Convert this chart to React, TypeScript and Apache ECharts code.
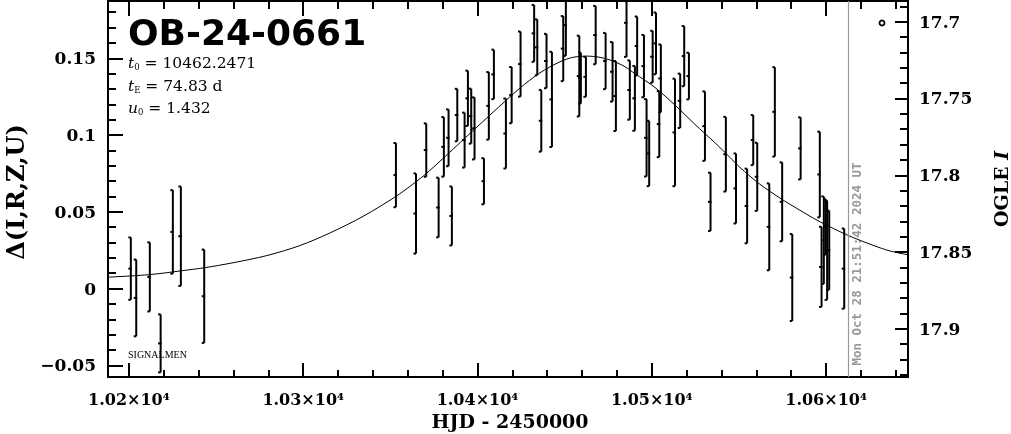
import React, { useEffect, useRef } from "react";
import * as echarts from "echarts";

// Observations: time (HJD-2450000), Δ flux, error
const obsT = [10201.1, 10204.2, 10212.0, 10218.2, 10225.2, 10229.8, 10243.2, 10353.2, 10364.7, 10370.6, 10377.7, 10380.7, 10383.4, 10385.3, 10388.4, 10392.6, 10394.5, 10396.4, 10398.3, 10403.7, 10406.5, 10409.4, 10416.3, 10419.6, 10424.7, 10432.5, 10434.3, 10436.6, 10439.6, 10442.7, 10449.2, 10450.7, 10458.4, 10459.3, 10462.2, 10467.8, 10473.5, 10477.5, 10479.4, 10485.5, 10487.4, 10490.3, 10491.6, 10495.5, 10497.0, 10498.5, 10500.5, 10502.4, 10504.3, 10505.2, 10513.3, 10516.3, 10518.6, 10521.3, 10530.5, 10533.7, 10542.5, 10548.3, 10554.7, 10558.2, 10560.5, 10567.4, 10570.6, 10574.8, 10580.6, 10585.4, 10596.4, 10597.4, 10598.7, 10599.7, 10600.6, 10601.8, 10610.4];
const obsDelta = [0.0130, -0.0061, 0.0076, -0.0357, 0.0369, 0.0341, -0.0050, 0.0739, 0.0489, 0.0902, 0.0528, 0.0923, 0.0982, 0.0473, 0.1130, 0.0967, 0.1239, 0.1123, 0.1043, 0.0699, 0.1190, 0.1395, 0.1010, 0.1260, 0.1462, 0.1662, 0.1571, 0.1093, 0.1482, 0.1232, 0.1563, 0.1716, 0.1384, 0.1371, 0.1379, 0.1651, 0.1482, 0.1412, 0.1254, 0.1731, 0.1293, 0.1239, 0.1580, 0.1449, 0.0982, 0.0880, 0.1510, 0.1597, 0.1071, 0.1369, 0.1017, 0.1223, 0.1514, 0.1384, 0.1058, 0.0565, 0.0875, 0.0652, 0.0538, 0.0967, 0.0728, 0.0402, 0.1151, 0.0565, 0.0072, 0.0913, 0.0743, 0.0141, 0.0315, 0.0402, 0.0250, 0.0250, 0.0130];
const obsErr = [0.0203, 0.0250, 0.0225, 0.0189, 0.0272, 0.0324, 0.0304, 0.0209, 0.0261, 0.0174, 0.0194, 0.0194, 0.0185, 0.0192, 0.0171, 0.0179, 0.0180, 0.0179, 0.0202, 0.0150, 0.0220, 0.0161, 0.0228, 0.0183, 0.0212, 0.0185, 0.0182, 0.0201, 0.0177, 0.0310, 0.0212, 0.0200, 0.0263, 0.0166, 0.0130, 0.0190, 0.0183, 0.0194, 0.0228, 0.0222, 0.0193, 0.0211, 0.0192, 0.0203, 0.0252, 0.0213, 0.0169, 0.0201, 0.0215, 0.0221, 0.0350, 0.0177, 0.0196, 0.0152, 0.0226, 0.0190, 0.0243, 0.0228, 0.0243, 0.0163, 0.0222, 0.0283, 0.0291, 0.0257, 0.0283, 0.0202, 0.0279, 0.0261, 0.0285, 0.0182, 0.0324, 0.0258, 0.0261];

// Model curve
const modelT = [10188.0, 10212.0, 10231.0, 10243.0, 10259.7, 10279.2, 10298.1, 10315.3, 10334.3, 10353.8, 10365.2, 10372.7, 10381.9, 10398.5, 10406.0, 10412.9, 10424.3, 10435.8, 10447.3, 10454.7, 10462.8, 10470.3, 10477.7, 10484.6, 10490.3, 10501.8, 10513.3, 10524.7, 10536.2, 10544.8, 10550.5, 10562.0, 10573.5, 10585.0, 10596.5, 10612.5, 10626.9, 10636.6, 10647.0];
const modelDelta = [0.0074, 0.0091, 0.0117, 0.0135, 0.0168, 0.0215, 0.0280, 0.0362, 0.0470, 0.0605, 0.0700, 0.0770, 0.0865, 0.1040, 0.1118, 0.1190, 0.1305, 0.1405, 0.1477, 0.1506, 0.1514, 0.1506, 0.1482, 0.1445, 0.1400, 0.1310, 0.1195, 0.1070, 0.0950, 0.0855, 0.0790, 0.0680, 0.0590, 0.0510, 0.0435, 0.0347, 0.0282, 0.0245, 0.0220];

// Axes
const xMajor = [10200, 10300, 10400, 10500, 10600];
const xLabels = ["1.02×10⁴", "1.03×10⁴", "1.04×10⁴", "1.05×10⁴", "1.06×10⁴"];
const xMinor = [10200, 10220, 10240, 10260, 10280, 10300, 10320, 10340, 10360, 10380, 10400, 10420, 10440, 10460, 10480, 10500, 10520, 10540, 10560, 10580, 10600, 10620, 10640];
const yMajor = [-0.05, 0, 0.05, 0.1, 0.15];
const yLabels = ["−0.05", "0", "0.05", "0.1", "0.15"];
const yMinor = [-0.05, -0.04, -0.03, -0.02, -0.01, 0, 0.01, 0.02, 0.03, 0.04, 0.05, 0.06, 0.07, 0.08, 0.09, 0.1, 0.11, 0.12, 0.13, 0.14, 0.15, 0.16, 0.17, 0.18];
const magMajor = [17.7, 17.75, 17.8, 17.85, 17.9];
const magLabels = ["17.7", "17.75", "17.8", "17.85", "17.9"];
const magMinor = [17.69, 17.7, 17.71, 17.72, 17.73, 17.74, 17.75, 17.76, 17.77, 17.78, 17.79, 17.8, 17.81, 17.82, 17.83, 17.84, 17.85, 17.86, 17.87, 17.88, 17.89, 17.9, 17.91, 17.92, 17.93];

const X_MIN = 10188;
const X_MAX = 10647;
const Y_MIN = -0.0576;
const Y_MAX = 0.1873;
const MAG_MIN = 17.6865;
const MAG_MAX = 17.9314;
const NOW_T = 10612.5;

const eventName = "OB-24-0661";
const paramT0 = "10462.2471";
const paramTE = "74.83 d";
const paramU0 = "1.432";
const dateText = "Mon Oct 28 21:51:42 2024 UT";

const SERIF = "DejaVu Serif";
const SANS = "DejaVu Sans";

function pick(list: number[], labels: string[]) {
  return (v: number) => {
    const i = list.findIndex((m) => Math.abs(m - v) < 1e-6);
    return i >= 0 ? labels[i] : "";
  };
}

function paramRich() {
  return {
    i: { fontFamily: SERIF, fontStyle: "italic", fontSize: 15.5, fill: "#000", verticalAlign: "bottom", lineHeight: 18 },
    s: { fontFamily: SERIF, fontSize: 8.5, fill: "#000", verticalAlign: "bottom", lineHeight: 13 },
    n: { fontFamily: SERIF, fontSize: 15.5, fill: "#000", verticalAlign: "bottom", lineHeight: 18 },
  };
}

export default function App() {
  const ref = useRef<HTMLDivElement>(null);
  useEffect(() => {
    if (!ref.current) return;
    const chart = echarts.init(ref.current, null, { renderer: "svg" });
    const axisLine = { show: true, onZero: false, lineStyle: { color: "#000", width: 2 } };
    const labelStyle = { color: "#000", fontFamily: SERIF, fontWeight: "bold" as const };
    const mkX = (pos: "top" | "bottom", ticks: number[], len: number, labels: boolean) => ({
      type: "value",
      position: pos,
      min: X_MIN,
      max: X_MAX,
      axisLine,
      splitLine: { show: false },
      axisTick: { show: true, inside: true, length: len, customValues: ticks, lineStyle: { color: "#000", width: 2 } },
      axisLabel: labels
        ? { show: true, customValues: xMajor, formatter: pick(xMajor, xLabels), margin: 14, fontSize: 16, ...labelStyle }
        : { show: false },
    });
    const mkY = (pos: "left" | "right", mag: boolean, ticks: number[], len: number, labels: boolean) => ({
      type: "value",
      position: pos,
      min: mag ? MAG_MIN : Y_MIN,
      max: mag ? MAG_MAX : Y_MAX,
      inverse: mag,
      axisLine,
      splitLine: { show: false },
      axisTick: { show: true, inside: true, length: len, customValues: ticks, lineStyle: { color: "#000", width: 2 } },
      axisLabel: labels
        ? {
            show: true,
            customValues: mag ? magMajor : yMajor,
            formatter: mag ? pick(magMajor, magLabels) : pick(yMajor, yLabels),
            margin: mag ? 11 : 12,
            fontSize: 17,
            ...labelStyle,
          }
        : { show: false },
    });

    const barData = obsT.map((t, i) => [t, obsDelta[i], obsErr[i]]);
    const curveData = modelT.map((t, i) => [t, modelDelta[i]]);

    chart.setOption({
      animation: false,
      grid: { left: 108, right: 103, top: 1, bottom: 57, containLabel: false },
      xAxis: [
        mkX("bottom", xMajor, 14, true),
        mkX("bottom", xMinor, 7, false),
        mkX("top", xMajor, 15, false),
        mkX("top", xMinor, 8, false),
      ],
      yAxis: [
        mkY("left", false, yMajor, 15, true),
        mkY("left", false, yMinor, 8, false),
        mkY("right", true, magMajor, 13, true),
        mkY("right", true, magMinor, 8, false),
      ],
      series: [
        {
          type: "line",
          xAxisIndex: 0,
          yAxisIndex: 0,
          data: curveData,
          smooth: 0.3,
          symbol: "none",
          lineStyle: { color: "#000", width: 1 },
          silent: true,
          z: 2,
          markLine: {
            silent: true,
            symbol: "none",
            label: { show: false },
            lineStyle: { color: "#999", width: 1.2, type: "solid" },
            data: [{ xAxis: NOW_T }],
          },
        },
        {
          type: "custom",
          xAxisIndex: 0,
          yAxisIndex: 0,
          data: barData,
          encode: { x: 0, y: 1 },
          clip: true,
          silent: true,
          z: 3,
          renderItem: (params: any, api: any) => {
            const t = api.value(0);
            const d = api.value(1);
            const e = api.value(2);
            const top = api.coord([t, d + e]);
            const bot = api.coord([t, d - e]);
            const mid = api.coord([t, d]);
            const x = top[0];
            const st = { stroke: "#000", lineWidth: 2 };
            return {
              type: "group",
              children: [
                { type: "line", shape: { x1: x, y1: top[1], x2: x, y2: bot[1] }, style: st },
                { type: "line", shape: { x1: x - 2.5, y1: top[1], x2: x, y2: top[1] }, style: st },
                { type: "line", shape: { x1: x - 2.5, y1: bot[1], x2: x, y2: bot[1] }, style: st },
                { type: "rect", shape: { x: x - 2.5, y: mid[1] - 1, width: 3.5, height: 2 }, style: { fill: "#000" } },
              ],
            };
          },
        },
      ],
      graphic: [
        {
          type: "text",
          x: 128,
          y: 32,
          style: { text: eventName, fontFamily: SANS, fontWeight: "bold", fontSize: 36, fill: "#000", align: "left", verticalAlign: "middle" },
        },
        {
          type: "text",
          x: 128,
          y: 62,
          style: { text: `{i|t}{s|0}{n| = ${paramT0}}`, align: "left", verticalAlign: "middle", rich: paramRich() },
        },
        {
          type: "text",
          x: 128,
          y: 85,
          style: { text: `{i|t}{s|E}{n| = ${paramTE}}`, align: "left", verticalAlign: "middle", rich: paramRich() },
        },
        {
          type: "text",
          x: 128,
          y: 107,
          style: { text: `{i|u}{s|0}{n| = ${paramU0}}`, align: "left", verticalAlign: "middle", rich: paramRich() },
        },
        {
          type: "text",
          x: 128,
          y: 354,
          style: { text: "SIGNALMEN", fontFamily: "Liberation Serif", fontSize: 10, fill: "#000", align: "left", verticalAlign: "middle" },
        },
        {
          type: "text",
          x: 15,
          y: 192,
          rotation: Math.PI / 2,
          style: { text: "Δ(I,R,Z,U)", fontFamily: SERIF, fontWeight: "bold", fontSize: 24, fill: "#000", align: "center", verticalAlign: "middle" },
        },
        {
          type: "text",
          x: 1001,
          y: 189,
          rotation: Math.PI / 2,
          style: {
            text: "{a|OGLE }{b|I}",
            align: "center",
            verticalAlign: "middle",
            rich: {
              a: { fontFamily: SERIF, fontWeight: "bold", fontSize: 19, fill: "#000" },
              b: { fontFamily: SERIF, fontWeight: "bold", fontStyle: "italic", fontSize: 19, fill: "#000" },
            },
          },
        },
        {
          type: "text",
          x: 510,
          y: 421,
          style: { text: "HJD - 2450000", fontFamily: SERIF, fontWeight: "bold", fontSize: 19, fill: "#000", align: "center", verticalAlign: "middle" },
        },
        {
          type: "text",
          x: 856,
          y: 264,
          rotation: Math.PI / 2,
          style: { text: dateText, fontFamily: "DejaVu Sans Mono", fontWeight: "bold", fontSize: 12.5, fill: "#999", align: "center", verticalAlign: "middle" },
        },
        {
          type: "circle",
          shape: { cx: 882, cy: 23, r: 2.5 },
          style: { fill: "#fff", stroke: "#000", lineWidth: 1.8 },
        },
      ],
    });
    return () => chart.dispose();
  }, []);
  return <div ref={ref} style={{ position: "fixed", left: 0, top: 0, width: 1011, height: 434 }} />;
}
